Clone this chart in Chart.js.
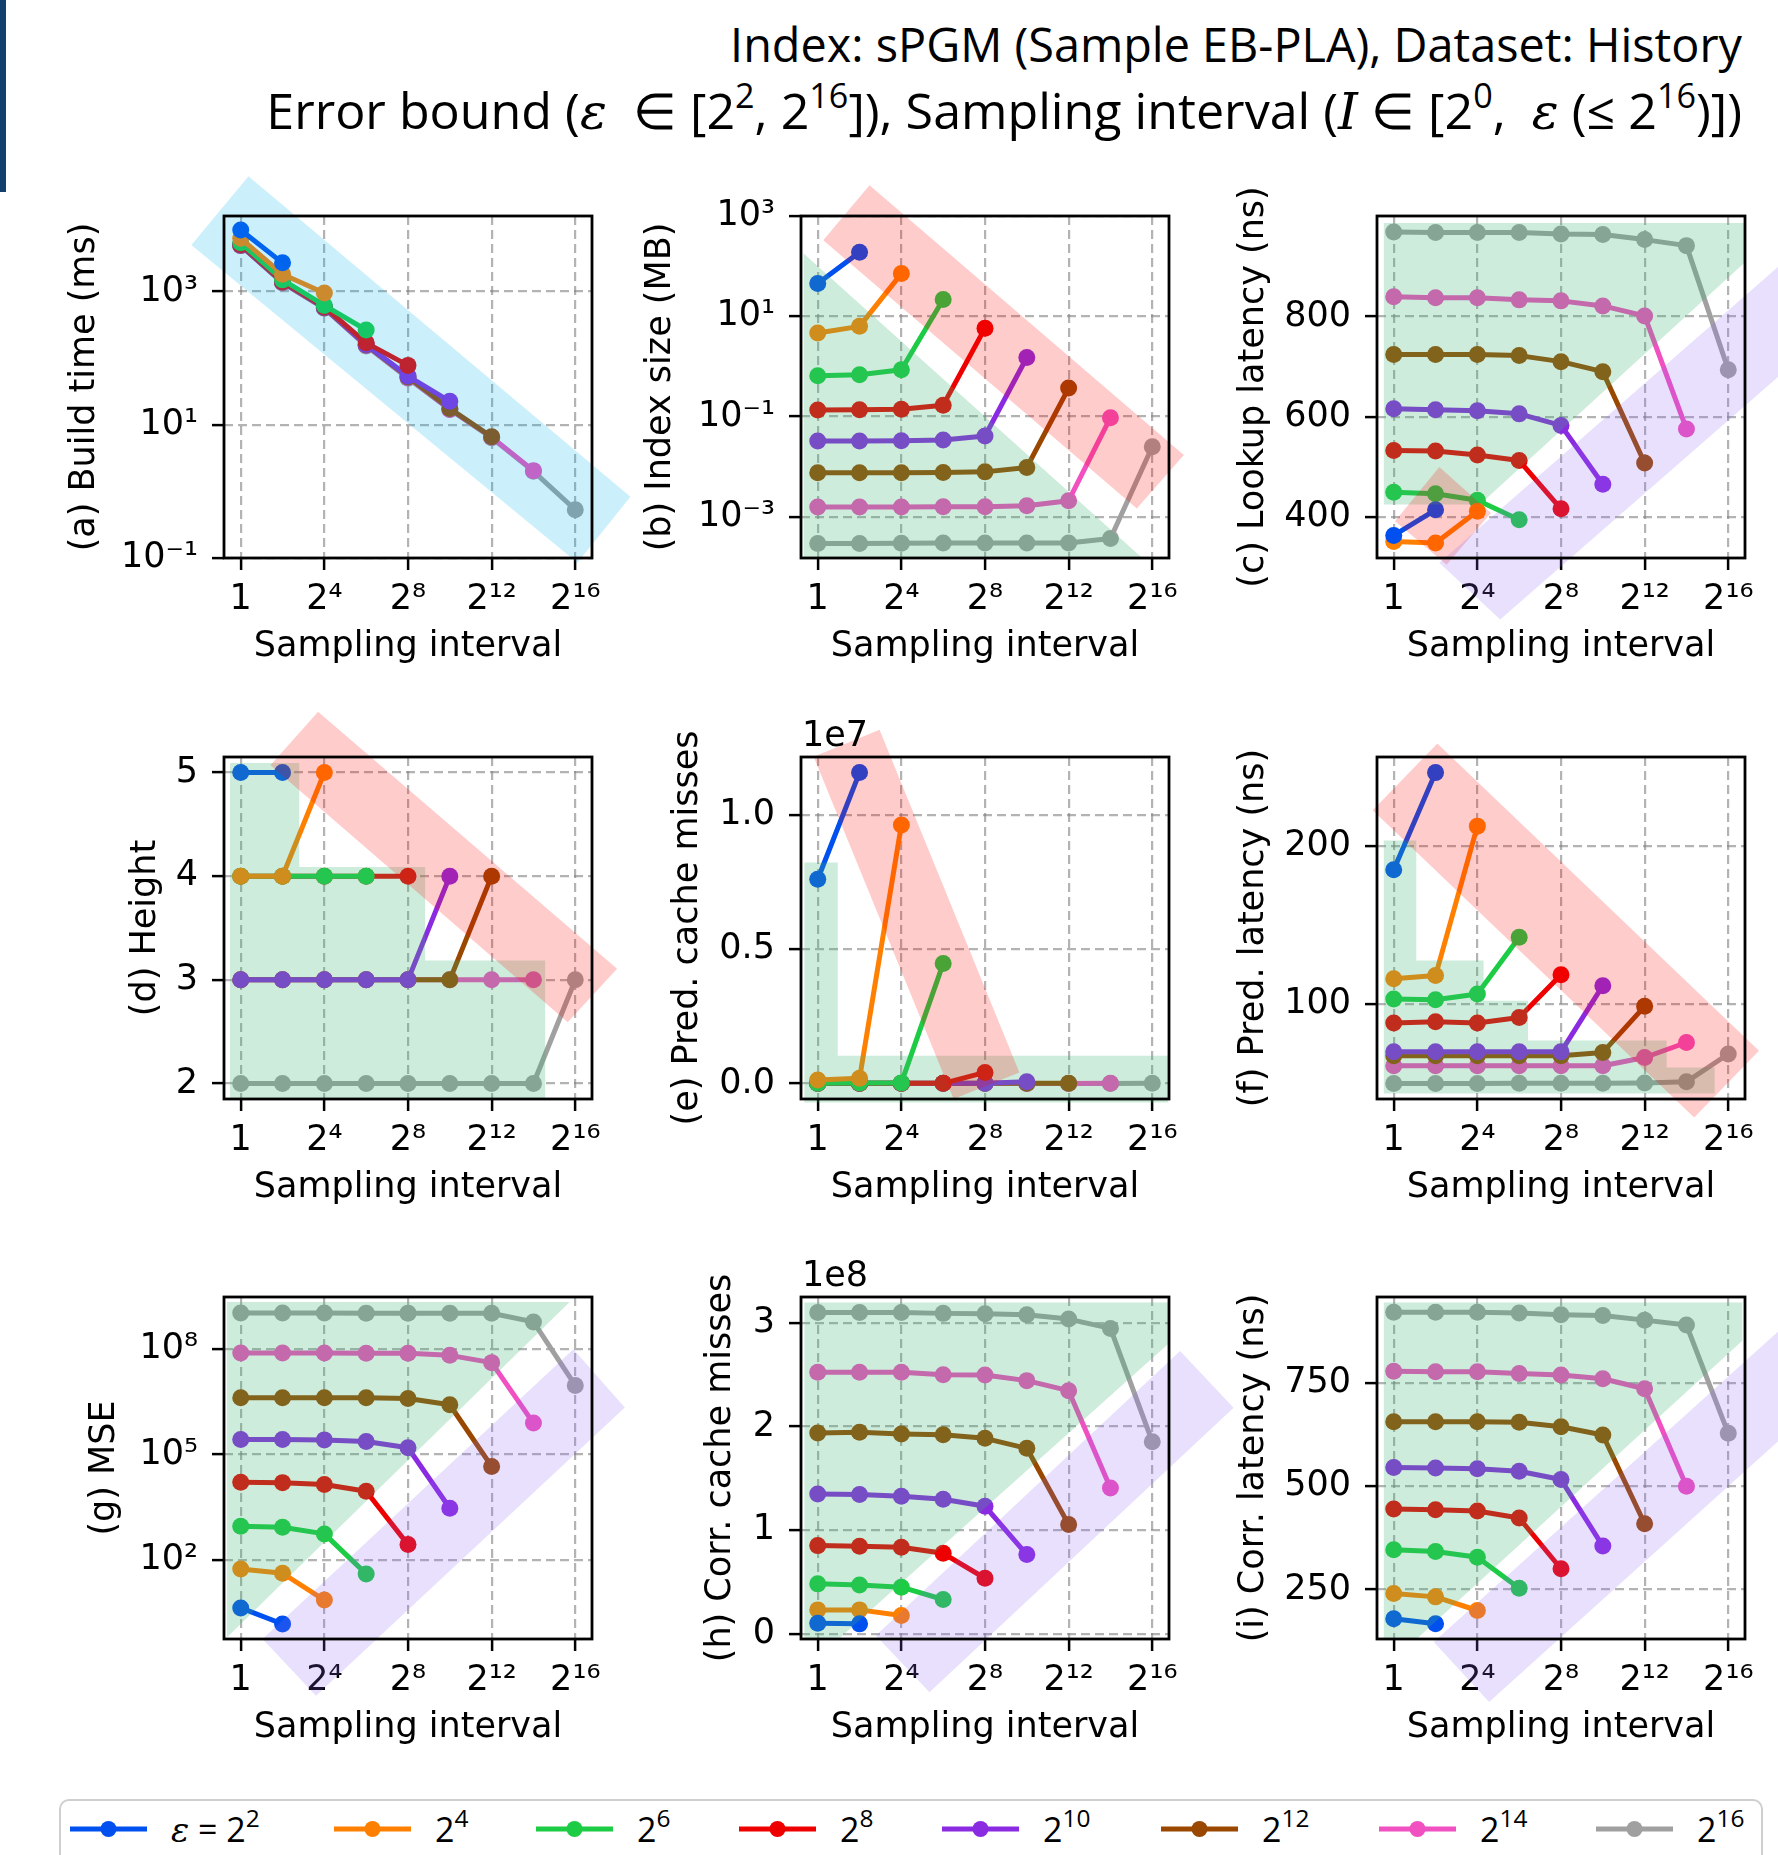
<!DOCTYPE html>
<html>
<head>
<meta charset="utf-8">
<script src="https://cdn.jsdelivr.net/npm/chart.js@4.4.1/dist/chart.umd.min.js"></script>
<style>
  html, body { margin: 0; padding: 0; background: #fff; overflow: hidden; }
  body { width: 1778px; height: 1855px; position: relative; }
  #bar { position: absolute; left: 0; top: 0; width: 6px; height: 192px; background: #123f6c; }
  #title { position: absolute; right: 36px; top: 12px; text-align: right; font-family: "Open Sans"; font-size: 46px; line-height: 65px; color: #000; white-space: nowrap; }
  #title sup { font-size: 0.68em; line-height: 0; vertical-align: 0.62em; }
  #legend sup { font-size: 0.72em; line-height: 0; vertical-align: 0.6em; }
  .m { font-family: "DejaVu Serif"; font-style: italic; }
  canvas { position: absolute; }
  #legend { position: absolute; left: 59px; top: 1799px; width: 1704px; height: 90px; box-sizing: border-box;
            border: 2px solid #cfcfcf; border-radius: 10px;
            font-family: "Open Sans"; font-size: 34px; color: #000; }
  #legend .item { position: absolute; top: 8px; display: flex; align-items: center; height: 40px; white-space: nowrap; }
  #legend svg { margin-right: 24px; }
</style>
</head>
<body>
<div id="bar"></div>
<div id="title">
  <div><span id="t1">Index: sPGM (Sample EB-PLA), Dataset: History</span></div>
  <div><span id="t2">Error bound (<span class="m">ε</span>&nbsp; ∈ [2<sup>2</sup>, 2<sup>16</sup>]), Sampling interval (<span class="m">I</span> ∈ [2<sup>0</sup>, &nbsp;<span class="m">ε</span> (≤ 2<sup>16</sup>)])</span></div>
</div>
<div id="legend"></div>
<script>
// sampling interval I = 2^k, one point per k (k <= eps exponent)
const intervalExp = [0, 2, 4, 6, 8, 10, 12, 14, 16]
const epsExp = [2, 4, 6, 8, 10, 12, 14, 16]
const xTickExp = [0, 4, 8, 12, 16]
const xTickLabels = ['1', '2⁴', '2⁸', '2¹²', '2¹⁶']

// one row per error bound (2^2 ... 2^16)
const buildTime = [
  [8400, 2700],
  [6300, 1820, 950],
  [5400, 1500, 620, 265],
  [5100, 1420, 590, 170, 78],
  [5000, 1400, 580, 160, 54, 22.5],
  [4950, 1380, 570, 158, 52, 17.5, 6.6],
  [4900, 1360, 565, 155, 51, 17, 6.5, 2.05],
  [4900, 1350, 560, 153, 50, 17, 6.4, 2.0, 0.53]
]
const indexSize = [
  [45, 190],
  [4.66, 6.3, 71],
  [0.65, 0.68, 0.86, 21.6],
  [0.136, 0.137, 0.14, 0.169, 5.8],
  [0.0327, 0.0327, 0.0328, 0.034, 0.041, 1.51],
  [0.0076, 0.0076, 0.0076, 0.0077, 0.0079, 0.0097, 0.37],
  [0.00158, 0.00158, 0.00158, 0.00159, 0.0016, 0.00166, 0.0021, 0.095],
  [0.000293, 0.000295, 0.000297, 0.0003, 0.0003, 0.0003, 0.0003, 0.00037, 0.025]
]
const lookupLatency = [
  [364, 415],
  [352, 349, 412],
  [450, 447, 434, 395],
  [533, 532, 524, 513, 417],
  [616, 614, 612, 606, 583, 466],
  [724, 724, 724, 722, 710, 690, 508],
  [839, 837, 837, 833, 831, 821, 801, 576],
  [968, 967, 967, 967, 964, 963, 953, 941, 694]
]
const height = [
  [5, 5],
  [4, 4, 5],
  [4, 4, 4, 4],
  [4, 4, 4, 4, 4],
  [3, 3, 3, 3, 3, 4],
  [3, 3, 3, 3, 3, 3, 4],
  [3, 3, 3, 3, 3, 3, 3, 3],
  [2, 2, 2, 2, 2, 2, 2, 2, 3]
]
const predCacheMisses = [
  [7.6e6, 1.157e7],
  [1.3e5, 1.9e5, 9.62e6],
  [1.0e4, 1.2e4, 2.0e4, 4.46e6],
  [5e3, 5e3, 6e3, 3e3, 4.1e5],
  [3e3, 3e3, 3e3, 3e3, 2e3, 6e4],
  [2e3, 2e3, 2e3, 2e3, 2e3, 2e3, 1e4],
  [1e3, 1e3, 1e3, 1e3, 1e3, 1e3, 1e3, 2e3],
  [1e3, 1e3, 1e3, 1e3, 1e3, 1e3, 1e3, 1e3, 2e3]
]
const predLatency = [
  [185, 246.6],
  [116, 118, 212.7],
  [103.2, 102.7, 106.3, 142.3],
  [88, 88.8, 88, 91.5, 118.6],
  [69.7, 69.7, 69.7, 69.7, 69.7, 111.6],
  [67.2, 67.2, 67.2, 67.2, 67.2, 69.3, 98.5],
  [60.9, 60.9, 60.9, 60.9, 60.9, 60.9, 66.1, 75.6],
  [49.6, 49.6, 49.6, 49.8, 49.8, 49.8, 50, 50.7, 68.3]
]
const mse = [
  [4.3, 1.5],
  [55.5, 41.7, 7.2],
  [906, 850, 550, 40],
  [16200, 15800, 14000, 9000, 273],
  [267000, 265000, 260000, 234000, 155000, 2950],
  [4.1e6, 4.1e6, 4.1e6, 4.1e6, 3.9e6, 2.6e6, 45700],
  [7.7e7, 7.7e7, 7.7e7, 7.6e7, 7.6e7, 6.6e7, 4.1e7, 7.8e5],
  [1.06e9, 1.06e9, 1.06e9, 1.05e9, 1.05e9, 1.05e9, 1.04e9, 5.9e8, 9.2e6]
]
const corrCacheMisses = [
  [1.02e7, 0.96e7],
  [2.31e7, 2.31e7, 1.76e7],
  [4.82e7, 4.72e7, 4.5e7, 3.31e7],
  [8.51e7, 8.45e7, 8.35e7, 7.77e7, 5.36e7],
  [1.35e8, 1.345e8, 1.327e8, 1.298e8, 1.231e8, 7.65e7],
  [1.938e8, 1.944e8, 1.929e8, 1.92e8, 1.886e8, 1.79e8, 1.054e8],
  [2.523e8, 2.523e8, 2.523e8, 2.5e8, 2.497e8, 2.443e8, 2.346e8, 1.408e8],
  [3.101e8, 3.101e8, 3.101e8, 3.092e8, 3.088e8, 3.079e8, 3.037e8, 2.947e8, 1.854e8]
]
const corrLatency = [
  [179, 167],
  [240, 232, 199],
  [346, 342, 328, 253],
  [445, 443, 440, 423, 300],
  [545, 544, 542, 536, 516, 355],
  [656, 656, 656, 655, 644, 624, 409],
  [778, 777, 777, 773, 769, 760, 736, 500],
  [921, 921, 921, 919, 915, 913, 902, 890, 628]
]

// y tick values and labels per panel
const ticksA = [0.1, 10, 1000], labelsA = ['10⁻¹', '10¹', '10³']
const ticksB = [0.001, 0.1, 10, 1000], labelsB = ['10⁻³', '10⁻¹', '10¹', '10³']
const ticksC = [400, 600, 800], labelsC = ['400', '600', '800']
const ticksD = [2, 3, 4, 5], labelsD = ['2', '3', '4', '5']
const ticksE = [0, 5e6, 1e7], labelsE = ['0.0', '0.5', '1.0']
const ticksF = [100, 200], labelsF = ['100', '200']
const ticksG = [100, 1e5, 1e8], labelsG = ['10²', '10⁵', '10⁸']
const ticksH = [0, 1e8, 2e8, 3e8], labelsH = ['0', '1', '2', '3']
const ticksI = [250, 500, 750], labelsI = ['250', '500', '750']

const colors = ['#0050f0', '#ff8000', '#1ccc44', '#ee0000', '#8a2be2', '#9a4800', '#f050c0', '#a0a0a0']
const GREEN = 'rgba(60,179,113,0.25)'
const RED = 'rgba(255,0,0,0.2)'
const BLUE = 'rgba(0,180,235,0.2)'
const PURPLE = 'rgba(140,100,240,0.2)'

// shaded regions, vertices in (log2 I, y) data units
const panels = [
  { title: '(a) Build time (ms)', values: buildTime, log: true, min: 0.1, max: 10 ** 4.135, ticks: ticksA, labels: labelsA, gap: 139,
    shades: [{ color: BLUE, pts: [[-2.36, 10 ** 3.70], [0.37, 10 ** 4.73], [18.64, 10 ** -0.08], [16.10, 10 ** -1.07]] }] },
  { title: '(b) Index size (MB)', values: indexSize, log: true, min: 10 ** -3.82, max: 1000, ticks: ticksB, labels: labelsB, gap: 140,
    shades: [
      { color: GREEN, pts: [[-0.675, 10 ** 2.254], [-0.675, 10 ** -3.82], [15.52, 10 ** -3.82]] },
      { color: RED, pts: [[0.263, 10 ** 2.514], [2.478, 10 ** 3.614], [17.51, 10 ** -1.766], [15.26, 10 ** -2.832]] }] },
  { title: '(c) Lookup latency (ns)', values: lookupLatency, min: 319, max: 1000, ticks: ticksC, labels: labelsC, gap: 123,
    shades: [
      { color: GREEN, pts: [[-0.475, 985.9], [16.76, 985.9], [16.76, 906.3], [4.12, 425.3], [-0.475, 425.3]] },
      { color: RED, pts: [[2.18, 500.3], [4.65, 408.8], [2.53, 305.6], [0.06, 392]] },
      { color: PURPLE, pts: [[2.18, 309.3], [20.21, 965], [23.13, 852.1], [5.09, 196.4]] }] },
  { title: '(d) Height', values: height, min: 1.85, max: 5.15, ticks: ticksD, labels: labelsD, gap: 78,
    shades: [
      { color: GREEN, pts: [[-0.513, 5.093], [2.80, 5.093], [2.80, 4.088], [8.82, 4.088], [8.82, 3.186], [14.56, 3.186], [14.56, 1.85], [-0.513, 1.85]] },
      { color: RED, pts: [[1.42, 5.07], [3.70, 5.586], [18.0, 3.106], [15.64, 2.59]] }] },
  { title: '(e) Pred. cache misses', values: predCacheMisses, min: -0.058e7, max: 1.215e7, ticks: ticksE, labels: labelsE, gap: 113, offset: '1e7',
    shades: [
      { color: GREEN, pts: [[-0.636, 0.822e7], [0.957, 0.822e7], [0.957, 0.103e7], [16.76, 0.103e7], [16.76, -0.071e7], [-0.636, -0.071e7]] },
      { color: RED, pts: [[-0.196, 1.216e7], [2.957, 1.316e7], [9.646, 0.041e7], [6.498, -0.058e7]] }] },
  { title: '(f) Pred. latency (ns)', values: predLatency, min: 39.8, max: 256.5, ticks: ticksF, labels: labelsF, gap: 123,
    shades: [
      { color: GREEN, pts: [[-0.475, 203.6], [1.079, 203.6], [1.079, 127.5], [4.297, 127.5], [4.297, 102.1], [6.422, 102.1], [6.422, 76.8],
        [13.05, 76.8], [13.05, 59.8], [15.35, 59.8], [15.35, 43.3], [-0.475, 43.3]] },
      { color: RED, pts: [[-1.007, 222.7], [2.086, 265], [17.47, 70.4], [14.37, 28]] }] },
  { title: '(g) MSE', values: mse, log: true, min: 10 ** -0.25, max: 10 ** 9.48, ticks: ticksG, labels: labelsG, gap: 119,
    shades: [
      { color: GREEN, pts: [[-0.662, 10 ** 9.339], [15.73, 10 ** 9.339], [-0.662, 10 ** -0.205]] },
      { color: PURPLE, pts: [[1.045, 10 ** -0.251], [15.91, 10 ** 7.991], [18.37, 10 ** 6.339], [3.60, 10 ** -1.866]] }] },
  { title: '(h) Corr. cache misses', values: corrCacheMisses, min: -0.05e8, max: 3.25e8, ticks: ticksH, labels: labelsH, gap: 80, offset: '1e8',
    shades: [
      { color: GREEN, pts: [[-0.636, 3.198e8], [16.76, 3.198e8], [16.76, 2.797e8], [1.01, -0.048e8], [-0.636, -0.048e8]] },
      { color: PURPLE, pts: [[2.78, -0.016e8], [17.33, 2.729e8], [19.89, 2.182e8], [5.344, -0.563e8]] }] },
  { title: '(i) Corr. latency (ns)', values: corrLatency, min: 130, max: 958, ticks: ticksI, labels: labelsI, gap: 123,
    shades: [
      { color: GREEN, pts: [[-0.475, 944.9], [16.67, 944.9], [16.67, 852.3], [1.118, 131], [-0.475, 131]] },
      { color: PURPLE, pts: [[1.914, 122.8], [19.66, 932.8], [22.31, 787.7], [4.561, -22.3]] }] }
]

// plot box placement
const colLeft = [224, 801, 1377]
const rowTop = [216, 757, 1297]
const boxW = 368, boxH = 342
const padL = 224, padT = 110, padR = 140, padB = 140

Chart.defaults.font.family = "'DejaVu Sans'"
Chart.defaults.font.size = 35
Chart.defaults.color = '#000'

function decor(panel) {
  return {
    id: 'decor',
    afterDatasetsDraw(chart) {
      const { ctx, scales: { x, y } } = chart
      ctx.save()
      panel.shades.forEach(s => {
        ctx.beginPath()
        s.pts.forEach(([px, py], i) => {
          const X = x.getPixelForValue(px), Y = y.getPixelForValue(py)
          if (i) ctx.lineTo(X, Y)
          else ctx.moveTo(X, Y)
        })
        ctx.closePath()
        ctx.fillStyle = s.color
        ctx.fill()
      })
      ctx.restore()
    },
    afterDraw(chart) {
      const { ctx, chartArea: a } = chart
      ctx.save()
      ctx.strokeStyle = '#000'
      ctx.lineWidth = 2.8
      ctx.strokeRect(a.left, a.top, a.right - a.left, a.bottom - a.top)
      if (panel.offset) {
        ctx.font = "35px 'DejaVu Sans'"
        ctx.fillStyle = '#000'
        ctx.textBaseline = 'alphabetic'
        ctx.fillText(panel.offset, a.left + 1, a.top - 11)
      }
      ctx.restore()
    }
  }
}

const gridStyle = { color: 'rgba(128,128,128,0.6)', lineWidth: 2.2, tickLength: 12, tickColor: '#000', tickWidth: 2.5 }

panels.forEach((panel, p) => {
  const canvas = document.createElement('canvas')
  canvas.width = padL + boxW + padR
  canvas.height = padT + boxH + padB
  canvas.style.left = (colLeft[p % 3] - padL) + 'px'
  canvas.style.top = (rowTop[Math.floor(p / 3)] - padT) + 'px'
  document.body.appendChild(canvas)

  new Chart(canvas, {
    type: 'line',
    data: {
      datasets: panel.values.map((vals, s) => ({
        data: vals.map((v, i) => ({ x: intervalExp[i], y: v })),
        borderColor: colors[s],
        backgroundColor: colors[s],
        pointBackgroundColor: colors[s],
        pointBorderWidth: 0,
        pointRadius: 8.5,
        borderWidth: 5,
        borderJoinStyle: 'round',
        borderCapStyle: 'round',
        tension: 0,
        fill: false,
        clip: false
      }))
    },
    options: {
      responsive: false,
      animation: false,
      devicePixelRatio: 1,
      events: [],
      layout: { padding: { left: 0, top: padT, right: padR, bottom: 0 } },
      plugins: { legend: { display: false }, tooltip: { enabled: false } },
      scales: {
        x: {
          type: 'linear', min: -0.8, max: 16.8, bounds: 'data',
          afterBuildTicks: s => { s.ticks = xTickExp.map(v => ({ value: v })) },
          afterFit: s => { s.height = padB },
          ticks: { callback: (v, i) => xTickLabels[i], padding: 9, maxRotation: 0, autoSkip: false },
          grid: gridStyle,
          border: { display: false, dash: [9, 5] },
          title: { display: true, text: 'Sampling interval', padding: { top: 0, bottom: 30 } }
        },
        y: {
          type: panel.log ? 'logarithmic' : 'linear', min: panel.min, max: panel.max, bounds: 'data',
          afterBuildTicks: s => { s.ticks = panel.ticks.map(v => ({ value: v })) },
          afterFit: s => { s.width = padL },
          ticks: { callback: (v, i) => panel.labels[i], padding: 14, autoSkip: false },
          grid: gridStyle,
          border: { display: false, dash: [9, 5] },
          title: { display: true, text: panel.title, padding: { top: padL - 21 - panel.gap, bottom: 0 } }
        }
      }
    },
    plugins: [decor(panel)]
  })
})

// legend, one column per error bound
const legendX = [70, 334, 536, 739, 942, 1161, 1379, 1596]
const legend = document.getElementById('legend')
epsExp.forEach((e, s) => {
  const item = document.createElement('div')
  item.className = 'item'
  item.style.left = (legendX[s] - 61) + 'px'
  item.innerHTML = '<svg width="77" height="20"><line x1="0" y1="10" x2="77" y2="10" stroke="' + colors[s] +
    '" stroke-width="5"/><circle cx="38.5" cy="10" r="8" fill="' + colors[s] + '"/></svg><span>' +
    (s === 0 ? '<span class="m">ε</span> = ' : '') + '2<sup>' + e + '</sup></span>'
  legend.appendChild(item)
})

// fit each title line to the width it has in the figure
function fitLine(id, target) {
  const el = document.getElementById(id)
  const w = el.getBoundingClientRect().width
  el.style.fontSize = (46 * target / w).toFixed(1) + 'px'
}
fitLine('t1', 1013)
fitLine('t2', 1476)
</script>
</body>
</html>
